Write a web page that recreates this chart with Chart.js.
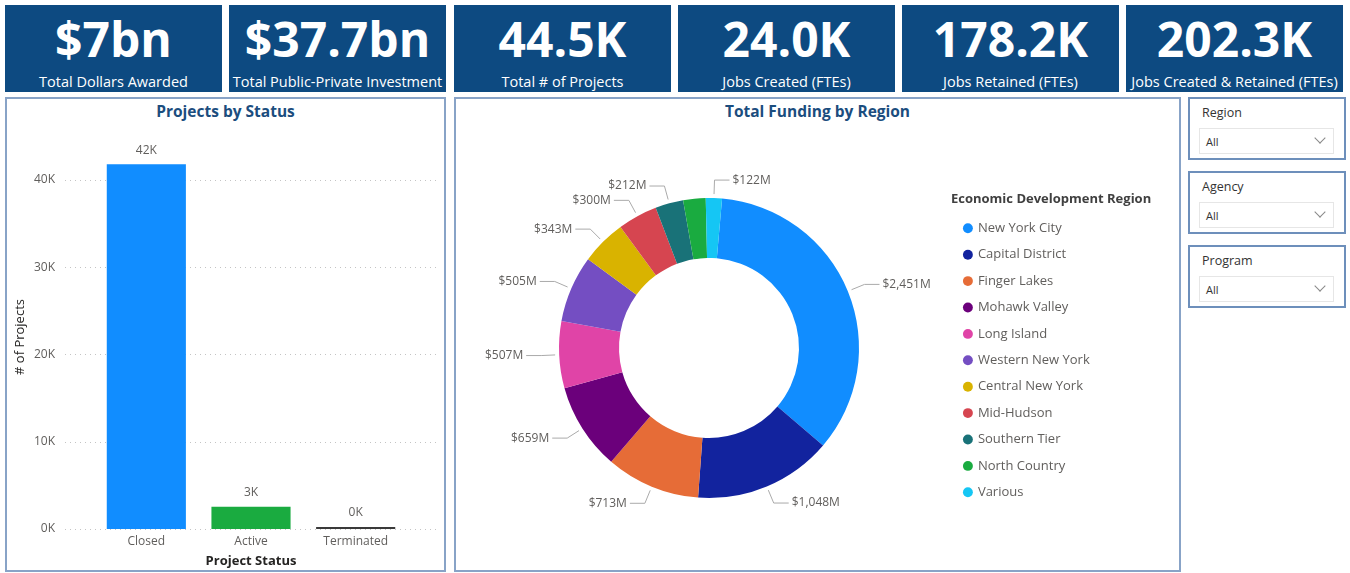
<!DOCTYPE html>
<html><head><meta charset="utf-8">
<script src="https://cdn.jsdelivr.net/npm/chart.js@4.4.1/dist/chart.umd.min.js"></script>
<style>
*{box-sizing:border-box}
html,body{margin:0;padding:0}
body{width:1350px;height:573px;position:relative;overflow:hidden;background:#fff;font-family:"Open Sans","Noto Sans",sans-serif}
.kpi{position:absolute;top:5px;width:217px;height:87px;background:#0d4a81}
.kpiv{position:absolute;left:0;width:217px;text-align:center;color:#fff;font-weight:700;font-size:48px;line-height:48px;top:10px;white-space:nowrap}
.kpil{position:absolute;left:0;width:217px;text-align:center;color:#fff;font-size:14.5px;line-height:17px;top:68px;white-space:nowrap}
.panel{position:absolute;border:2px solid #88a3c7;background:#fff}
.ptitle{position:absolute;text-align:center;color:#1b4d7e;font-weight:700;font-size:15.5px;line-height:18px;white-space:nowrap}
.slicer{position:absolute;left:1188px;width:158px;height:63px;border:2px solid #6d8fbb;background:#fff}
.slabel{position:absolute;left:12px;top:6px;font-size:12.5px;color:#333;line-height:16px}
.sbox{position:absolute;left:9px;top:29px;width:135px;height:26px;border:1px solid #e6e6e6}
.sval{position:absolute;left:6px;top:6px;font-size:11px;color:#333;line-height:14px}
.chev{position:absolute;right:9px;top:5px;width:8px;height:8px;border-right:1px solid #888;border-bottom:1px solid #888;transform:rotate(45deg)}
canvas{position:absolute;display:block}
</style></head><body>
<div class="panel" style="left:5px;top:97px;width:441px;height:475px"></div>
<div class="panel" style="left:454px;top:97px;width:727px;height:475px"></div>
<div class="ptitle" style="left:5px;top:102px;width:441px">Projects by Status</div>
<div class="ptitle" style="left:454px;top:102px;width:727px">Total Funding by Region</div>
<canvas id="bar" width="438" height="444" style="left:6px;top:125px;width:438px;height:444px"></canvas>
<canvas id="donut" width="722" height="442" style="left:456px;top:127px;width:722px;height:442px"></canvas>
<div id="kpis"></div>
<div id="slicers"></div>
<script>
// ---------- data ----------
const kpiValues = ['$7bn', '$37.7bn', '44.5K', '24.0K', '178.2K', '202.3K'];
const kpiLabels = ['Total Dollars Awarded', 'Total Public-Private Investment', 'Total # of Projects', 'Jobs Created (FTEs)', 'Jobs Retained (FTEs)', 'Jobs Created & Retained (FTEs)'];

const statusCategories = ['Closed', 'Active', 'Terminated'];
const statusProjects = [41800, 2550, 150];
const statusColors = ['#118DFF', '#1AAB40', '#3a3a3a'];
const statusTickValues = [0, 10000, 20000, 30000, 40000];

const regions = ['New York City', 'Capital District', 'Finger Lakes', 'Mohawk Valley', 'Long Island', 'Western New York', 'Central New York', 'Mid-Hudson', 'Southern Tier', 'North Country', 'Various'];
const regionFundingM = [2451, 1048, 713, 659, 507, 505, 343, 300, 212, 170, 122];
const regionColors = ['#118DFF', '#12239E', '#E66C37', '#6B007B', '#E044A7', '#744EC2', '#D9B300', '#D64550', '#197278', '#1AAB40', '#15C6F4'];
const regionsWithoutLabel = ['North Country'];

const slicerNames = ['Region', 'Agency', 'Program'];
const slicerValues = ['All', 'All', 'All'];

// ---------- KPI cards & slicers ----------
const kpiLefts = [5, 229, 454, 678, 902, 1126];
const kpiWrap = document.getElementById('kpis');
kpiValues.forEach((v, i) => {
  const d = document.createElement('div');
  d.className = 'kpi';
  d.style.left = kpiLefts[i] + 'px';
  d.innerHTML = '<div class="kpiv"></div><div class="kpil"></div>';
  d.children[0].textContent = v;
  d.children[1].textContent = kpiLabels[i];
  kpiWrap.appendChild(d);
});
const slWrap = document.getElementById('slicers');
slicerNames.forEach((n, i) => {
  const d = document.createElement('div');
  d.className = 'slicer';
  d.style.top = (97 + i * 74) + 'px';
  d.innerHTML = '<div class="slabel"></div><div class="sbox"><div class="sval"></div><div class="chev"></div></div>';
  d.querySelector('.slabel').textContent = n;
  d.querySelector('.sval').textContent = slicerValues[i];
  slWrap.appendChild(d);
});

Chart.defaults.font.family = '"Open Sans","Noto Sans",sans-serif';
const grey = '#605E5C';

// ---------- bar chart ----------
const dottedGrid = {
  id: 'dottedGrid',
  beforeDatasetsDraw(chart) {
    const {ctx, chartArea, scales: {y}} = chart;
    ctx.save();
    ctx.strokeStyle = '#c4c4c4';
    ctx.lineWidth = 1;
    ctx.setLineDash([1, 4]);
    y.ticks.forEach(t => {
      const py = Math.round(y.getPixelForValue(t.value)) + 0.5;
      ctx.beginPath();
      ctx.moveTo(chartArea.left - 29, py);
      ctx.lineTo(chartArea.right + 32, py);
      ctx.stroke();
    });
    ctx.restore();
  }
};
const barLabels = {
  id: 'barLabels',
  afterDatasetsDraw(chart) {
    const {ctx} = chart;
    const meta = chart.getDatasetMeta(0);
    ctx.save();
    ctx.fillStyle = grey;
    ctx.font = '12px "Open Sans","Noto Sans",sans-serif';
    ctx.textAlign = 'center';
    ctx.textBaseline = 'middle';
    meta.data.forEach((bar, i) => {
      const v = chart.data.datasets[0].data[i];
      ctx.fillText(Math.round(v / 1000) + 'K', bar.x, bar.y - 14);
    });
    ctx.restore();
  }
};
new Chart(document.getElementById('bar'), {
  type: 'bar',
  data: {
    labels: statusCategories,
    datasets: [{data: statusProjects, backgroundColor: statusColors, barPercentage: 0.756, categoryPercentage: 1, minBarLength: 2}]
  },
  options: {
    responsive: false, animation: false, devicePixelRatio: 1,
    layout: {padding: {top: 20, right: 36, left: 0, bottom: 0}},
    plugins: {legend: {display: false}, tooltip: {enabled: false}},
    scales: {
      x: {
        grid: {display: false, drawTicks: false}, border: {display: false},
        ticks: {padding: 5, color: grey, font: {size: 12}},
        title: {display: true, text: 'Project Status', color: '#252423', font: {size: 13, weight: 'bold'}, padding: 0},
        afterFit(s) { s.height = 40; s.paddingLeft = 0; s.paddingRight = 0; }
      },
      y: {
        min: 0, max: 44000,
        afterBuildTicks(s) { s.ticks = statusTickValues.map(v => ({value: v})); },
        ticks: {padding: 39, color: grey, font: {size: 12}, callback: v => (v / 1000) + 'K'},
        grid: {display: false, drawTicks: false}, border: {display: false},
        title: {display: true, text: '# of Projects', color: '#252423', font: {size: 13}, padding: {top: 6}},
        afterFit(s) { s.width = 88; s.paddingTop = 0; s.paddingBottom = 0; }
      }
    }
  },
  plugins: [dottedGrid, barLabels]
});

// ---------- doughnut ----------
function fmtM(v) { return '$' + String(v).replace(/\B(?=(\d{3})+(?!\d))/g, ',') + 'M'; }
const donutLabels = {
  id: 'donutLabels',
  afterDatasetsDraw(chart) {
    const {ctx} = chart;
    const meta = chart.getDatasetMeta(0);
    ctx.save();
    ctx.font = '12px "Open Sans","Noto Sans",sans-serif';
    ctx.textBaseline = 'middle';
    meta.data.forEach((arc, i) => {
      if (regionsWithoutLabel.includes(chart.data.labels[i])) return;
      const p = arc.getProps(['x', 'y', 'startAngle', 'endAngle', 'outerRadius'], true);
      const mid = (p.startAngle + p.endAngle) / 2;
      const c = Math.cos(mid), s = Math.sin(mid);
      const x1 = p.x + c * (p.outerRadius + 4), y1 = p.y + s * (p.outerRadius + 4);
      const x2 = p.x + c * (p.outerRadius + 18), y2 = p.y + s * (p.outerRadius + 18);
      const dir = c >= 0 ? 1 : -1;
      const x3 = x2 + dir * 15;
      ctx.strokeStyle = '#aaaaaa';
      ctx.lineWidth = 1;
      ctx.beginPath();
      ctx.moveTo(x1, y1); ctx.lineTo(x2, y2); ctx.lineTo(x3, y2);
      ctx.stroke();
      ctx.fillStyle = grey;
      ctx.textAlign = dir > 0 ? 'left' : 'right';
      ctx.fillText(fmtM(chart.data.datasets[0].data[i]), x3 + dir * 3, y2);
    });
    ctx.restore();
  }
};
const donutCanvasLeft = 456, donutCenterX = 709, legendLeftTarget = 951, donutCanvasW = 722;
const legendWidth = donutCanvasLeft + donutCanvasW - legendLeftTarget;
const fixedLegendWidth = {
  id: 'fixedLegendWidth',
  afterInit(chart) {
    const lg = chart.legend;
    const fit = lg.fit;
    lg.fit = function () { fit.call(this); this.width = legendWidth; };
  }
};
new Chart(document.getElementById('donut'), {
  type: 'doughnut',
  data: {
    labels: regions,
    datasets: [{data: regionFundingM, backgroundColor: regionColors, borderWidth: 0}]
  },
  options: {
    responsive: false, animation: false, devicePixelRatio: 1,
    rotation: 5, cutout: '60%', radius: 150,
    layout: {padding: {left: (2 * donutCenterX - legendLeftTarget) - donutCanvasLeft, right: 0, top: 0, bottom: 0}},
    plugins: {
      tooltip: {enabled: false},
      legend: {
        position: 'right', align: 'center',
        title: {display: true, position: 'start', text: 'Economic Development Region', color: '#404040', font: {size: 13, weight: 'bold'}, padding: {top: 9, bottom: 0}},
        labels: {usePointStyle: true, pointStyle: 'circle', boxWidth: 7, boxHeight: 7, padding: 13.4, color: grey, font: {size: 13}}
      }
    }
  },
  plugins: [fixedLegendWidth, donutLabels]
});
</script>
</body></html>
